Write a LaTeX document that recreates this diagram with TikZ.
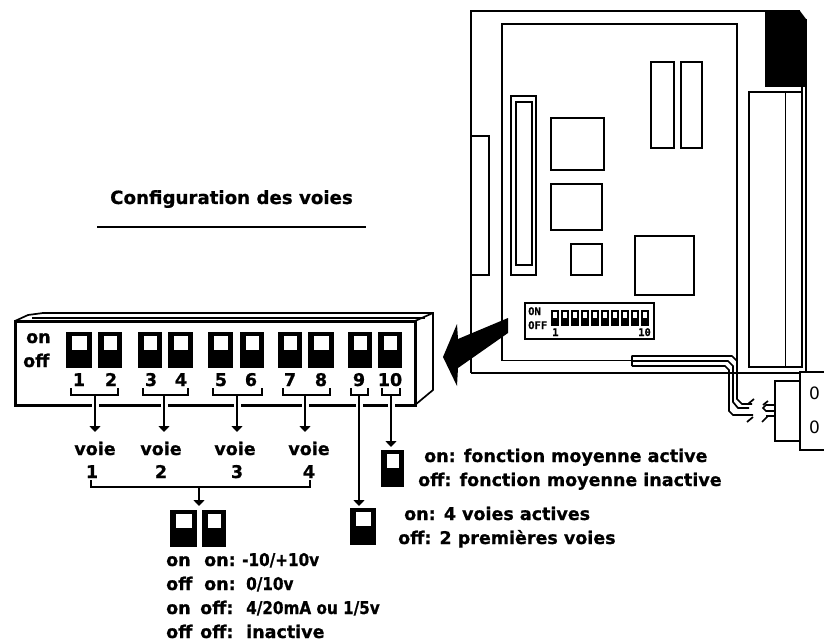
\documentclass[tikz,border=0pt]{standalone}
\usepackage{graphicx}
\usepackage{fontspec}
\setmainfont[BoldFeatures={FakeBold=0.8}]{DejaVu Sans}
\newfontfamily\monof[BoldFeatures={FakeBold=0.5}]{DejaVu Sans Mono}
\usetikzlibrary{arrows.meta}
\newcommand{\nar}[1]{\scalebox{.87}[1]{#1}}
\tikzset{
  thinl/.style={draw=black,line width=1.7pt},
  heavy/.style={draw=black,line width=3pt},
  part/.style={thinl,fill=white},
  lab/.style={font=\fontsize{17.5}{20}\bfseries\selectfont,anchor=base west,inner sep=0pt,text=black},
  labc/.style={font=\fontsize{17.5}{20}\bfseries\selectfont,anchor=base,inner sep=0pt,text=black},
  ttl/.style={font=\fontsize{18.2}{20}\bfseries\selectfont,anchor=base west,inner sep=0pt},
  tiny/.style={font=\fontsize{10.5}{12}\monof\bfseries\selectfont,anchor=base west,inner sep=0pt},
  arr/.style={draw=black,line width=1.7pt,-{Triangle[length=6pt,width=11pt]}},
  halo/.style={draw=white,line width=7pt},
  brk/.style={draw=black,line width=1.7pt},
  switchbody/.style={fill=black,inner sep=0pt,outer sep=0pt}
}
\newcommand{\dipsw}[5]{%
  \node[switchbody,minimum width={(#4-#2)*1pt},minimum height={(#5-#3)*1pt}] (#1) at ({(#2+#4)/2},{(#3+#5)/2}) {};
  \fill[white] ({#2+6},{#3+4}) rectangle ({#4-5},{#3+18});
}
\begin{document}
\begin{tikzpicture}[x=1pt,y=-1pt]
\useasboundingbox (0,0) rectangle (824,644);
% board
\draw[thinl] (806,19) -- (806,371) (802,87) -- (802,92);
\draw[thinl] (471,373) -- (471,11) -- (800,11);
\draw[thinl] (471,373) -- (800,373);
\fill[black] (765,11) -- (800,11) -- (806,19) -- (806,87) -- (765,87) -- cycle;
\draw[thinl] (632,360.5) -- (502,360.5) -- (502,24) -- (737,24) -- (737,373);
\draw[part] (749,92) rectangle (802,367);
\draw[thinl] (785.5,92) -- (785.5,367);
\draw[thinl] (471,136) -- (489,136) -- (489,275) -- (471,275);
\node[part,inner sep=0pt,minimum width=25pt,minimum height=179pt] (conn) at (523.5,185.5) {};
\node[part,inner sep=0pt,minimum width=16pt,minimum height=163pt] (conni) at (524,183.5) {};
\node[part,inner sep=0pt,minimum width=53pt,minimum height=52pt] (ic1) at (577.5,144) {};
\node[part,inner sep=0pt,minimum width=51pt,minimum height=46pt] (ic2) at (576.5,207) {};
\node[part,inner sep=0pt,minimum width=31pt,minimum height=31pt] (ic3) at (586.5,259.5) {};
\node[part,inner sep=0pt,minimum width=59pt,minimum height=59pt] (ic4) at (664.5,265.5) {};
\node[part,inner sep=0pt,minimum width=23pt,minimum height=86pt] (m1) at (662.5,105) {};
\node[part,inner sep=0pt,minimum width=21pt,minimum height=86pt] (m2) at (691.5,105) {};
% mini dip
\node[part,inner sep=0pt,minimum width=129pt,minimum height=36pt] (mini) at (589.5,321) {};
\node[tiny] (mon) at (528,315) {ON};
\node[tiny] (moff) at (528,329) {OFF};
\node[tiny] (m1l) at (552,336) {1};
\node[tiny] (m10l) at (638,336) {10};
\foreach \i in {0,...,9} {
  \fill[black] ({551+\i*10},310) rectangle ({559+\i*10},326);
  \fill[white] ({553+\i*10},312) rectangle ({557+\i*10},318);
}
% cable
\draw[thinl,line join=round] (632,366) -- (632,356) -- (732,356) -- (737,361);
\draw[thinl] (632,361) -- (728,361) -- (733,366) -- (733,402) -- (738,408) -- (749,408);
\draw[thinl] (632,366) -- (725,366) -- (729,370) -- (729,411) -- (733,415) -- (753,415);
\draw[thinl] (737,373) -- (737,399) -- (742,404) -- (752,404);
\draw[thinl] (748,404) -- (754,399) (747,422) -- (753,417);
\draw[thinl] (762,422) -- (768,416) (763,405) -- (768,401);
\draw[thinl] (775,405) -- (766,405) -- (763,408) -- (766,411) -- (775,411);
\draw[thinl] (775,416) -- (766,416);
% connector block
\draw[thinl] (824,372) -- (800,372) -- (800,450) -- (824,450);
\node[part,inner sep=0pt,minimum width=25pt,minimum height=60pt] (plug) at (787.5,411) {};
\node[font=\fontsize{17}{20}\selectfont,inner sep=0pt] (z1) at (814.5,393) {0};
\node[font=\fontsize{17}{20}\selectfont,inner sep=0pt] (z2) at (814.5,427) {0};
% big arrow
\fill[black] (443,357) -- (457,324) -- (458,339) -- (508,318) -- (508,333) -- (458,368) -- (457,386) -- cycle;
% title
\node[ttl] (title) at (110,204) {Configuration des voies};
\coordinate (ul1) at (97,227);
\coordinate (ul2) at (366,227);
\draw[thinl] (ul1) -- (ul2);
% big switch block
\draw[heavy,line join=miter] (15,321) -- (415,321) -- (415,405) -- (15,405) -- cycle;
\draw[thinl] (15,321) -- (28,315) -- (43,313) -- (433,313) -- (433,390) -- (415,405);
\draw[thinl] (32,318) -- (425,318);
\draw[thinl] (415,321) -- (433,313);
\node[lab] (on) at (26,343) {on};
\node[lab] (off) at (23,367) {off};
\dipsw{s1}{66}{332}{92}{368}
\dipsw{s2}{98}{332}{122}{368}
\dipsw{s3}{138}{332}{162}{368}
\dipsw{s4}{168}{332}{193}{368}
\dipsw{s5}{208}{332}{233}{368}
\dipsw{s6}{240}{332}{264}{368}
\dipsw{s7}{278}{332}{302}{368}
\dipsw{s8}{308}{332}{334}{368}
\dipsw{s9}{348}{332}{372}{368}
\dipsw{s10}{378}{332}{402}{368}
\foreach \x/\t in {79/1,111/2,151/3,181/4,221/5,251/6,290/7,321/8,359/9,390/10}
  \node[labc] (n\t) at (\x,386) {\t};
% brackets
\draw[brk] (71,388) -- (71,395) -- (118,395) -- (118,388);
\draw[brk] (143,388) -- (143,395) -- (188,395) -- (188,388);
\draw[brk] (213,388) -- (213,395) -- (262,395) -- (262,388);
\draw[brk] (283,388) -- (283,395) -- (330,395) -- (330,388);
\draw[brk] (351,388) -- (351,395) -- (368,395) -- (368,388);
\draw[brk] (382,388) -- (382,395) -- (400,395) -- (400,388);
\coordinate (b1) at (95,395);
\coordinate (b2) at (164,395);
\coordinate (b3) at (237,395);
\coordinate (b4) at (305,395);
\coordinate (b9) at (359,395);
\coordinate (b10) at (391,395);
% voie labels
\node[labc] (v1) at (95,455) {voie};
\node[labc] (v2) at (161,455) {voie};
\node[labc] (v3) at (235,455) {voie};
\node[labc] (v4) at (309,455) {voie};
\node[labc] (w1) at (92,478) {1};
\node[labc] (w2) at (161,478) {2};
\node[labc] (w3) at (237,478) {3};
\node[labc] (w4) at (309,478) {4};
\coordinate (a1) at (95,432);
\coordinate (a2) at (164,432);
\coordinate (a3) at (237,432);
\coordinate (a4) at (305,432);
\foreach \k in {1,2,3,4} \draw[halo] (b\k |- 0,402) -- (b\k |- 0,408);
\foreach \k in {9,10} \draw[halo] (b\k |- 0,402) -- (b\k |- 0,408);
\foreach \k in {1,2,3,4} \draw[arr] (b\k) -- (a\k);
% lower switches
\dipsw{p1}{170}{510}{197}{547}
\dipsw{p2}{202}{510}{226}{547}
\dipsw{q9}{350}{508}{376}{545}
\dipsw{q10}{381}{450}{404}{487}
\coordinate (a9) at (359,506);
\coordinate (a10) at (391,447);
\draw[arr] (b9) -- (a9);
\draw[arr] (b10) -- (a10);
% voie bracket
\coordinate (c1) at (91,480);
\coordinate (c2) at (310,480);
\coordinate (cm) at (199,487);
\coordinate (ca) at (199,506);
\draw[brk] (c1) -- (91,487) -- (310,487) -- (c2);
\draw[arr] (cm) -- (ca);
% tables
\node[lab] (t11) at (166,566) {on};
\node[lab] (t12) at (204,566) {on:};
\node[lab] (t13) at (242,566) {\nar{-10/+10v}};
\node[lab] (t21) at (166,590) {off};
\node[lab] (t22) at (204,590) {on:};
\node[lab] (t23) at (246,590) {\nar{0/10v}};
\node[lab] (t31) at (166,614) {on};
\node[lab] (t32) at (200,614) {off:};
\node[lab] (t33) at (246,614) {\nar{4/20mA ou 1/5v}};
\node[lab] (t41) at (166,638) {off};
\node[lab] (t42) at (200,638) {off:};
\node[lab] (t43) at (246,638) {inactive};
\node[lab] (f1) at (424,462) {on: fonction moyenne active};
\node[lab] (f2) at (418,486) {off: fonction moyenne inactive};
\node[lab] (h1) at (404,520) {on: 4 voies actives};
\node[lab] (h2) at (398,544) {off: 2 premières voies};
\end{tikzpicture}
\end{document}
